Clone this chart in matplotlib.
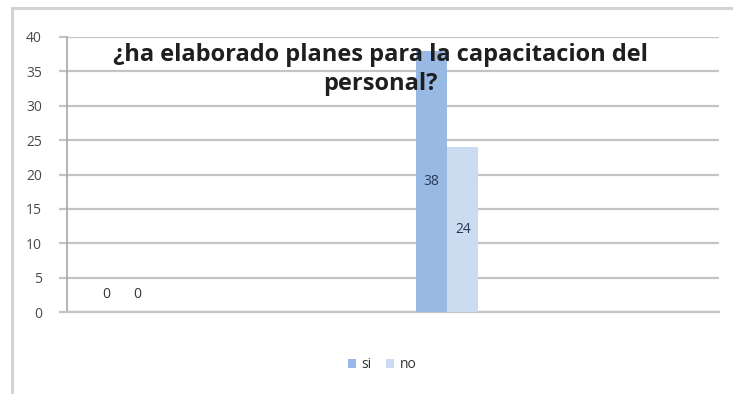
import matplotlib
matplotlib.use("Agg")
import matplotlib.pyplot as plt
from matplotlib.patches import Rectangle
import numpy as np

categories = ["", ""]
series_names = ["si", "no"]
si_values = [0, 38]
no_values = [0, 24]
yticks = [0, 5, 10, 15, 20, 25, 30, 35, 40]
title = "¿ha elaborado planes para la capacitacion del\npersonal?"

colors = ["#98b9e3", "#cbdbf0"]
font = ["Open Sans", "DejaVu Sans"]
plt.rcParams["font.family"] = font

fig = plt.figure(figsize=(7.33, 3.94), dpi=100)
fig.patch.set_facecolor("white")
# outer chart frame
fig.patches.append(Rectangle((12 / 733, -0.05), 1.0, 1.05 - 8 / 394,
                             transform=fig.transFigure, fill=False,
                             edgecolor="#d3d3d3", linewidth=2.2))

ax = fig.add_axes([67 / 733, 1 - 312 / 394, (719 - 67) / 733, (312 - 37) / 394])

# Excel-style clustered layout: gap width 150%, slots for 9 series
n_slots = 9
gap = 1.5
bw = 1.0 / (n_slots + gap)
x = np.arange(len(categories))
start = -0.5 + gap * bw / 2
for i, (vals, c, name) in enumerate(zip([si_values, no_values], colors, series_names)):
    xs = x + start + bw * (i + 0.5)
    ax.bar(xs, vals, width=bw, color=c, label=name, zorder=3)
    for xi, v in zip(xs, vals):
        if v == 0:
            ax.annotate(str(v), (xi, 0), xytext=(0, 18), textcoords="offset pixels",
                        ha="center", va="center", fontsize=10, color="#333333", zorder=4)
        else:
            ax.text(xi, v / 2, str(v), ha="center", va="center", fontsize=10,
                    color="#2a3a55", zorder=4)

ax.set_xlim(-0.5, len(categories) - 0.5)
ax.set_ylim(0, 40)
ax.set_yticks(yticks)
ax.set_yticklabels([str(t) for t in yticks], fontsize=10, color="#4a4a4a")
ax.set_xticks([])
ax.yaxis.grid(True, color="#c4c4c4", linewidth=1.6, zorder=0)
ax.tick_params(axis="y", length=6, width=1.6, color="#c4c4c4", pad=12)
for s in ["top", "right"]:
    ax.spines[s].set_visible(False)
ax.spines["left"].set_color("#a8a8a8")
ax.spines["left"].set_linewidth(1.2)
ax.spines["bottom"].set_color("#c4c4c4")
ax.spines["bottom"].set_linewidth(1.6)

fig.text(380 / 733, 1 - 69.5 / 394, title, ha="center", va="center",
         fontsize=17, fontweight="bold", color="#1f1f1f", linespacing=1.3)

leg = ax.legend(loc="center", bbox_to_anchor=(382 / 733, 1 - 365 / 394),
                bbox_transform=fig.transFigure, ncol=2, frameon=False,
                fontsize=10, handlelength=0.6, handleheight=0.6,
                handletextpad=0.4, columnspacing=1.0)
for t in leg.get_texts():
    t.set_color("#333333")

fig.savefig("out.png", dpi=100)
